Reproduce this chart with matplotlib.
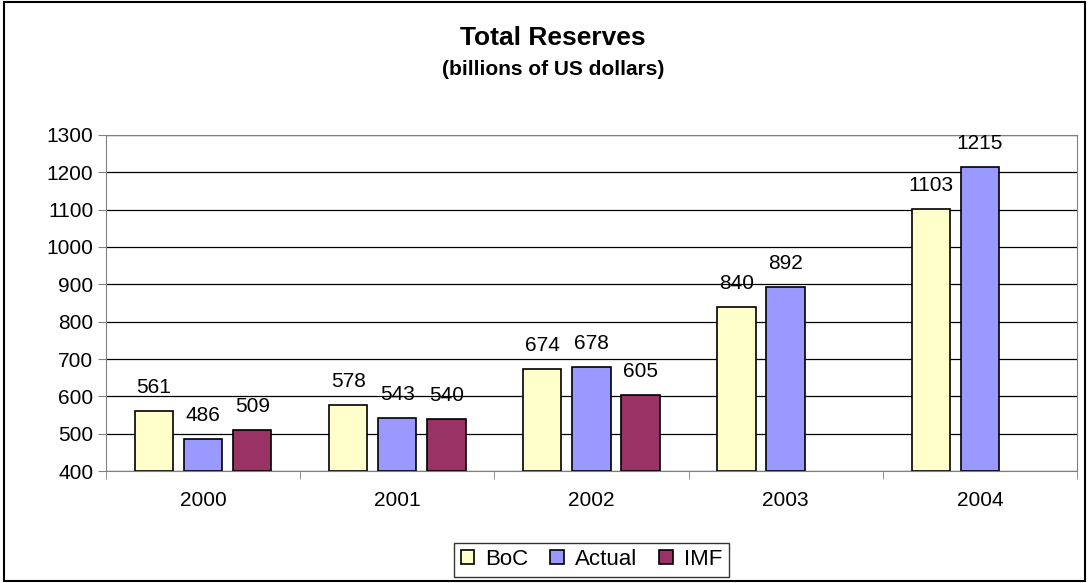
import numpy as np
import matplotlib.pyplot as plt
from matplotlib.patches import Rectangle

years = ['2000', '2001', '2002', '2003', '2004']
boc = [561, 578, 674, 840, 1103]
actual = [486, 543, 678, 892, 1215]
imf = [509, 540, 605, None, None]

plt.rcParams['font.family'] = ['Liberation Sans', 'DejaVu Sans']

fig = plt.figure(figsize=(10.89, 5.83), dpi=100)
fig.patches.append(Rectangle((0.004, 0.003), 0.992, 0.994, transform=fig.transFigure,
                             fill=False, edgecolor='black', linewidth=1.5))
ax = fig.add_axes([0.0973, 0.192, 0.8916, 0.5765])

x = np.arange(len(years))
w = 0.197
off = 0.253
series = [('BoC', boc, '#FFFFCC', -off), ('Actual', actual, '#9999FF', 0), ('IMF', imf, '#993366', off)]
for name, vals, col, dx in series:
    xs = [xi + dx for xi, v in zip(x, vals) if v is not None]
    vs = [v for v in vals if v is not None]
    bars = ax.bar(xs, [v - 400 for v in vs], bottom=400, width=w, color=col,
                  edgecolor='black', linewidth=1.2, label=name, zorder=3)
    for b, v in zip(bars, vs):
        ax.annotate(str(v), (b.get_x() + b.get_width() / 2, v), xytext=(0, 10),
                    textcoords='offset points', ha='center', va='bottom', fontsize=15)

ax.set_xlim(-0.5, 4.5)
ax.set_ylim(400, 1300)
ax.set_yticks(range(400, 1301, 100))
ax.yaxis.grid(True, color='black', linewidth=0.9, zorder=0)
ax.set_xticks(x)
ax.set_xticklabels(years, fontsize=15)
ax.set_xticks(np.arange(-0.5, 4.6, 1), minor=True)
ax.tick_params(axis='x', which='major', length=0, pad=14)
ax.tick_params(axis='x', which='minor', length=6, color='gray')
ax.tick_params(axis='y', labelsize=15, length=6, color='gray', pad=3)
for s in ax.spines.values():
    s.set_color('gray')

fig.text(0.508, 0.935, 'Total Reserves', ha='center', va='center', fontsize=19, fontweight='bold')
fig.text(0.508, 0.88, '(billions of US dollars)', ha='center', va='center', fontsize=15, fontweight='bold')

fig.legend(loc='center', bbox_to_anchor=(0.543, 0.040), ncol=3, fontsize=16, frameon=True,
           fancybox=False, edgecolor='black', handlelength=0.6, handleheight=0.6,
           handletextpad=0.5, columnspacing=1.0, borderpad=0.3)

fig.savefig('out.png', dpi=100)
